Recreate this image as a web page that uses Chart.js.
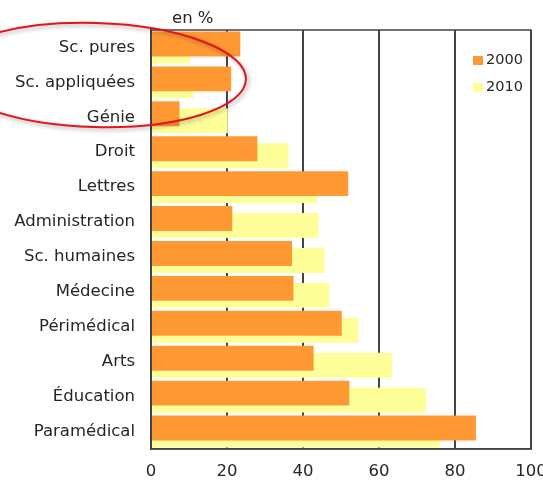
<!DOCTYPE html>
<html>
<head>
<meta charset="utf-8">
<script src="https://cdn.jsdelivr.net/npm/chart.js@4"></script>
<style>
  body { margin: 0; background: #fff; }
  canvas { display: block; }
</style>
</head>
<body>
<canvas id="chart" width="543" height="481"></canvas>
<script>
// data
const categories = ["Sc. pures", "Sc. appliquées", "Génie", "Droit", "Lettres", "Administration",
  "Sc. humaines", "Médecine", "Périmédical", "Arts", "Éducation", "Paramédical"];
const values2000 = [23.5, 21.1, 7.5, 28.0, 51.9, 21.4, 37.1, 37.5, 50.2, 42.8, 52.2, 85.5];
const values2010 = [10.3, 11.2, 20.2, 36.2, 43.7, 44.1, 45.7, 46.9, 54.6, 63.4, 72.4, 76.0];
const xTicks = [0, 20, 40, 60, 80, 100];
const seriesLabels = ["2000", "2010"];

const FONT = "'DejaVu Sans', Verdana, sans-serif";
const TEXT = "#262626";
const LINE = "#444";

// box, unit label, legend and the red ellipse
const extras = {
  id: "extras",
  afterDatasetsDraw(chart) {
    const { ctx, chartArea: a } = chart;
    ctx.save();
    ctx.strokeStyle = LINE;
    ctx.lineWidth = 1.5;
    ctx.strokeRect(a.left, a.top, a.right - a.left, a.bottom - a.top);

    ctx.fillStyle = TEXT;
    ctx.font = "16.5px " + FONT;
    ctx.textBaseline = "middle";
    ctx.fillText("en %", a.left + 21, a.top - 11);

    // legend inside the plot, top right
    ctx.font = "14.5px " + FONT;
    chart.data.datasets.forEach((ds, i) => {
      const y = a.top + 30 + i * 27;
      ctx.fillStyle = ds.backgroundColor;
      ctx.fillRect(a.right - 58, y - 4, 10, 9);
      ctx.fillStyle = TEXT;
      ctx.fillText(ds.label, a.right - 45, y);
    });
    ctx.restore();
  },
  afterDraw(chart) {
    const { ctx } = chart;
    ctx.save();
    ctx.shadowColor = "rgba(0,0,0,0.35)";
    ctx.shadowBlur = 4;
    ctx.shadowOffsetX = 2;
    ctx.shadowOffsetY = 2;
    ctx.strokeStyle = "#e3141b";
    ctx.lineWidth = 2;
    ctx.beginPath();
    ctx.ellipse(95, 75, 151, 52, 0.03, 0, Math.PI * 2);
    ctx.stroke();
    ctx.restore();
  }
};

new Chart(document.getElementById("chart"), {
  type: "bar",
  data: {
    labels: categories,
    datasets: [
      {
        label: seriesLabels[0],
        data: values2000,
        backgroundColor: "#ff9933",
        categoryPercentage: 0.4,
        barPercentage: 3.57,
      },
      {
        label: seriesLabels[1],
        data: values2010,
        backgroundColor: "#ffff99",
        categoryPercentage: 0.4,
        barPercentage: 3.57,
      },
    ],
  },
  options: {
    indexAxis: "y",
    responsive: false,
    animation: false,
    devicePixelRatio: 1,
    layout: { padding: { top: 30, right: 12, left: 0, bottom: 0 } },
    plugins: {
      legend: { display: false },
      tooltip: { enabled: false },
    },
    scales: {
      x: {
        min: xTicks[0],
        max: xTicks[xTicks.length - 1],
        afterBuildTicks: (s) => { s.ticks = xTicks.map((v) => ({ value: v })); },
        ticks: { color: TEXT, font: { family: FONT, size: 16.5 }, padding: 13 },
        grid: { color: LINE, lineWidth: 2, drawTicks: false },
        border: { display: true, color: LINE, width: 1.5 },
        afterFit: (s) => {
          s.height = 32;
          s.paddingLeft = 0;
          s.paddingRight = 0;
        },
      },
      y: {
        grid: { display: false, drawTicks: false },
        border: { display: true, color: LINE, width: 1.5 },
        ticks: { color: TEXT, font: { family: FONT, size: 16.5 }, padding: 16 },
        afterFit: (s) => {
          s.width = 151;
          s.paddingTop = 0;
          s.paddingBottom = 0;
        },
      },
    },
  },
  plugins: [extras],
});
</script>
</body>
</html>
